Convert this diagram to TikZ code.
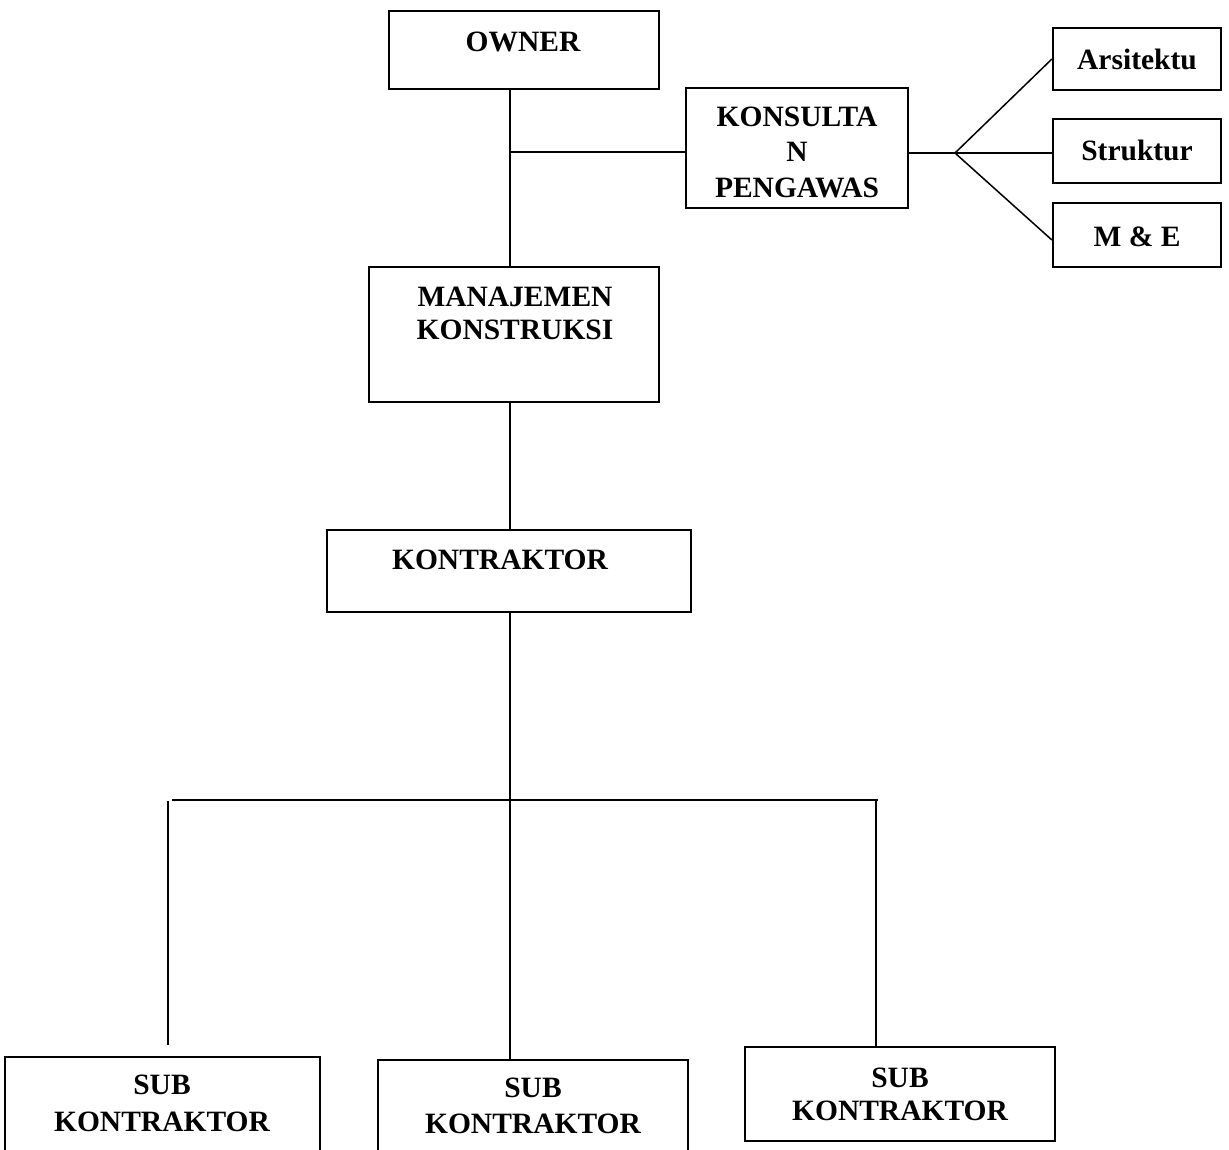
\documentclass[tikz,border=0pt]{standalone}
\usepackage{fontspec}
\setmainfont{Liberation Serif}
\begin{document}
\begin{tikzpicture}[x=1pt,y=-1pt,
  box/.style={draw, line width=2.2pt, inner sep=0pt},
  lbl/.style={inner sep=0pt, align=center, font=\fontsize{29.5}{35}\selectfont\bfseries},
  conn/.style={line width=1.5pt}]
\useasboundingbox (0,0) rectangle (1229,1149);
\clip (0,0) rectangle (1229,1149);
\fill[white] (0,0) rectangle (1229,1149);
% boxes
\node[box, minimum width=270pt, minimum height=78pt] (owner) at (524,50) {};
\node[box, minimum width=222pt, minimum height=120pt] (kons) at (797,148) {};
\node[box, minimum width=168pt, minimum height=62pt] (ars) at (1137,59) {};
\node[box, minimum width=168pt, minimum height=64pt] (str) at (1137,151) {};
\node[box, minimum width=168pt, minimum height=64pt] (me) at (1137,235) {};
\node[box, minimum width=290pt, minimum height=135pt] (mk) at (514,334.5) {};
\node[box, minimum width=364pt, minimum height=82pt] (kon) at (509,571) {};
\node[box, minimum width=315pt, minimum height=110pt] (s1) at (162.5,1112) {};
\node[box, minimum width=310pt, minimum height=110pt] (s2) at (533,1115) {};
\node[box, minimum width=310pt, minimum height=94pt] (s3) at (900,1094) {};
% labels
\node[lbl] (townner) at (523,42) {OWNER};
\node[lbl, font=\fontsize{29.5}{35.5}\selectfont\bfseries] (tkons) at (797,152) {KONSULTA\\N\\PENGAWAS};
\node[lbl] (tars) at (1137,59) {Arsitektu};
\node[lbl] (tstr) at (1137,150) {Struktur};
\node[lbl] (tme) at (1137,237) {M \& E};
\node[lbl, font=\fontsize{29.5}{33}\selectfont\bfseries] (tmk) at (515,313) {MANAJEMEN\\KONSTRUKSI};
\node[lbl] (tkon) at (500,560) {KONTRAKTOR};
\node[lbl, font=\fontsize{29.5}{37}\selectfont\bfseries] (ts1) at (162,1103.5) {SUB\\KONTRAKTOR};
\node[lbl, font=\fontsize{29.5}{36}\selectfont\bfseries] (ts2) at (533,1106) {SUB\\KONTRAKTOR};
\node[lbl, font=\fontsize{29.5}{33}\selectfont\bfseries] (ts3) at (900,1094.5) {SUB\\KONTRAKTOR};
% junction coordinates
\coordinate (j1) at (510,152);
\coordinate (f) at (955,153);
\coordinate (j2) at (510,800);
\coordinate (hl) at (172,800);
\coordinate (hr) at (878,800);
\coordinate (v1t) at (168,801);
\coordinate (v1b) at (168,1045);
\coordinate (v3t) at (876,801);
% connectors
\draw[conn] (owner.south -| j1) -- (mk.north -| j1);
\draw[conn] (j1) -- (kons.west |- j1);
\draw[conn] (kons.east |- f) -- (f);
\draw[conn] (f) -- (ars.west);
\draw[conn] (f) -- (str.west |- f);
\draw[conn] (f) -- ([yshift=-5pt]me.west);
\draw[conn] (mk.south -| j1) -- (kon.north -| j1);
\draw[conn] (kon.south -| j2) -- (j2);
\draw[conn, line width=2pt] (hl) -- (hr);
\draw[conn] (v1t) -- (v1b);
\draw[conn] (j2) -- (s2.north -| j2);
\draw[conn] (v3t) -- (s3.north -| v3t);
\end{tikzpicture}
\end{document}
